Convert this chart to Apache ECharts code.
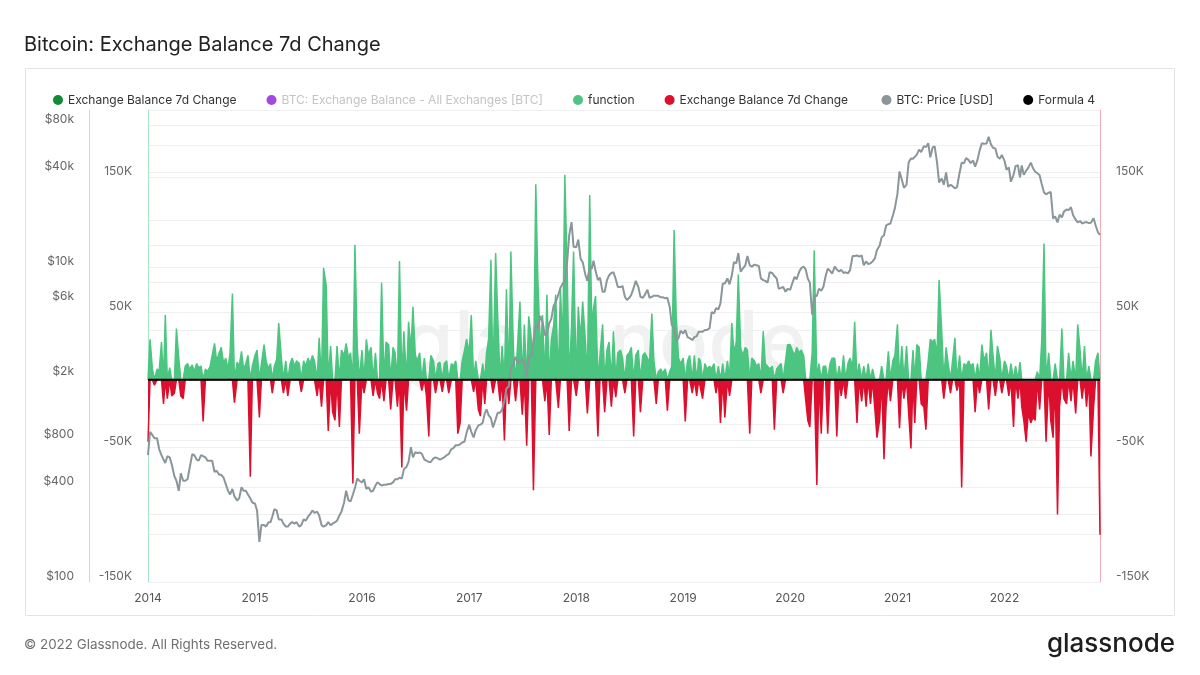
<!DOCTYPE html>
<html><head><meta charset="utf-8">
<script src="https://cdn.jsdelivr.net/npm/echarts@6/dist/echarts.min.js"></script>
<style>html,body{margin:0;padding:0;background:#fff}#c{width:1200px;height:675px}</style>
</head><body><div id="c"></div>
<script>
// ---- data (4 samples per month: day 1, 8, 16, 23) ----
const years = [2014, 2015, 2016, 2017, 2018, 2019, 2020, 2021, 2022];
const sampleDays = [1, 8, 16, 23];
// Exchange balance 7d change, thousands of BTC
const balance2014 = [-46,30,8,-4, 8,6,28,-18, 48,-14,9,-12, -10,38,16,-12, -14,10,12,8, 11,6,12,9, 10,-31,8,6, 10,18,27,14, 20,24,12,16, 8,20,64,-17, 13,10,21,8, 12,18,-72,10];
const balance2015 = [18,22,-28,12, 26,14,8,12, -10,10,15,42, 16,-10,14,-12, 12,16,10,14, 12,-9,14,10, 16,12,18,14, -12,31,-20,83, 70,-38,25,-24, -30,25,-35,22, 18,27,16,20, -77,100,24,-40];
const balance2016 = [22,-10,30,18, 24,-12,20,-10, -14,72,-16,28, 26,-22,24,20, -20,88,-65,36, -23,43,22,54, 18,14,20,-8, 16,-12,-42,18, 14,-10,12,13, -9,12,14,-10, 12,10,14,-40, -32,14,22,30];
const balance2017 = [20,48,-9,14, -22,-27,12,-18, 20,30,89,-10, 94,48,-16,25, -45,67,-18,95, 20,-16,30,58, -26,41,-49,47, 30,-82,145,75, 20,48,-16,63, -41,30,40,63, -21,68,25,152, 83,-38,40,95];
const balance2018 = [-12,54,30,58, 30,-25,137,40, 53,62,-42,18, 41,-24,22,28, -20,36,-13,20, 22,16,-10,18, 20,24,-42,18, 22,-24,18,20, 16,12,49,14, -18,6,8,5, 8,-23,6,10, 111,48,16,12];
const balance2019 = [16,-31,14,18, -10,18,-12,16, 14,-14,12,8, 10,8,12,-10, 10,-32,12,-28, 14,-12,42,20, 28,78,24,18, 24,22,-40,16, 14,10,12,-10, 36,12,10,8, 10,-37,8,10, 12,-10,14,26];
const balance2020 = [26,22,18,24, 20,22,18,-15, -30,-35,20,96, -78,12,-40,10, 10,-40,12,16, 16,-42,10,-12, 18,-14,12,16, 10,43,-32,12, -16,10,-20,12, -18,8,-22,-43, -30,10,-59,-20, 21,-16,14,18];
const balance2021 = [41,-36,25,-14, 25,-24,-51,22, -32,26,24,-18, -20,-37,14,30, 28,30,18,74, 36,-14,24,12, -10,14,31,-8, 18,-80,12,10, 14,10,12,-24, 12,-10,26,14, 20,-22,37,18, -12,25,16,-10];
const balance2022 = [14,10,-12,12, -35,10,-14,13, -20,-30,-46,-25, -32,-28,-30,6, -22,28,101,-46, 20,-30,-43,12, -100,-20,38,-14, -18,20,-16,14, -25,41,22,-14, 25,-20,10,-57, -21,14,20,-115];
// BTC price, USD
const price2014 = [640,900,860,820, 820,700,640,600, 570,630,620,560, 470,440,380,490, 440,440,450,530, 650,640,600,590, 640,630,620,590, 590,590,500,510, 480,480,460,420, 380,360,390,350, 330,340,400,380, 380,360,340,320];
const price2015 = [315,285,180,230, 230,225,240,240, 260,290,285,250, 250,235,225,225, 235,240,235,240, 225,230,250,245, 260,270,285,275, 280,265,230,225, 230,240,230,235, 240,245,265,280, 320,380,330,325, 360,395,455,440];
const price2016 = [430,450,390,400, 375,380,410,430, 420,410,415,415, 420,420,430,450, 450,460,455,520, 540,580,720,620, 670,660,665,655, 600,590,580,580, 610,620,610,600, 610,620,640,650, 700,710,740,740, 750,770,780,890];
const price2017 = [1000,900,830,920, 990,1000,1030,1180, 1250,1150,1100,960, 1080,1190,1190,1250, 1420,1700,1750,2300, 2450,2700,2450,2600, 2500,2550,2000,2750, 2700,3400,4300,4100, 4900,4500,3700,3800, 4400,4700,5700,6000, 6700,7400,7900,8100, 10800,16000,19400,13500];
const price2018 = [13400,15000,11300,10800, 9000,8200,10100,9800, 11000,9500,8300,8600, 7000,7000,8300,8900, 9200,9300,8400,7500, 7500,7600,6500,6200, 6400,6700,7400,8200, 7500,6500,6400,6700, 7200,6400,6500,6600, 6600,6600,6450,6450, 6350,6400,5600,4300, 4100,3400,3550,3950];
const price2019 = [3800,4000,3600,3550, 3450,3600,3650,3900, 3800,3900,4000,4000, 4100,5200,5100,5500, 5400,5900,7900,7900, 8500,7800,8900,10800, 10600,12300,9400,9800, 10300,11800,10300,10100, 10400,10300,10200,8500, 8300,8200,8000,9300, 9200,8800,8500,7300, 7400,7500,7000,7300];
const price2020 = [7200,7900,8700,8400, 9400,9900,10100,9700, 8500,8000,5000,6500, 6600,7300,7100,7500, 8800,9800,9500,9100, 10100,9700,9400,9650, 9200,9300,9150,9600, 11800,11800,11900,11700, 11900,10300,10900,10500, 10600,10900,11400,12900, 13700,15500,16000,18400, 18800,19000,21300,23700];
const price2021 = [29400,40700,36000,32000, 33500,46400,49200,49000, 49600,52000,56000,54000, 59000,58000,61500,50000, 57800,58800,46400,34700, 36700,33500,40100,32500, 33500,32800,31800,32300, 39900,46300,45900,49500, 48000,46000,47800,43600, 48200,55000,61500,61000, 61300,67600,60300,57500, 57000,50600,48900,51800];
const price2022 = [47700,41700,43100,35000, 38700,44000,44500,37300, 44400,38700,41100,42900, 46300,42800,40500,39700, 38500,34000,29900,29100, 29800,30100,20400,21100, 19300,21600,20800,22600, 23300,23100,24100,21500, 20100,19300,19700,19000, 19300,19400,19100,19200, 20500,18500,16700,16100];
const zeroLine = [0, 0];
const balanceLabelValues = [-150, -50, 50, 150];
const priceLabelValues = [100, 400, 800, 2000, 6000, 10000, 40000, 80000];
const priceGridValues = [100, 200, 400, 800, 1000, 2000, 4000, 6000, 8000, 10000, 20000, 40000, 60000, 80000];

// ---- build ----
const balanceByYear = [balance2014, balance2015, balance2016, balance2017, balance2018, balance2019, balance2020, balance2021, balance2022];
const priceByYear = [price2014, price2015, price2016, price2017, price2018, price2019, price2020, price2021, price2022];
const dates = [], balance = [], price = [];
years.forEach((y, k) => {
  balanceByYear[k].forEach((v, i) => {
    dates.push(Date.UTC(y, Math.floor(i / 4), sampleDays[i % 4]));
    balance.push(v);
    price.push(priceByYear[k][i]);
  });
});
const inflow = dates.map((t, i) => [t, Math.max(balance[i], 0)]);
const outflow = dates.map((t, i) => [t, Math.min(balance[i], 0)]);
const priceData = dates.map((t, i) => [t, price[i]]);
const xMin = Date.UTC(2014, 0, 1), xMax = Date.UTC(2022, 10, 23);
const yearTicks = years.map(y => Date.UTC(y, 0, 1));

const FONT = 'Inter, "Noto Sans", sans-serif';
const chart = echarts.init(document.getElementById('c'), null, { renderer: 'canvas' });
const lbl = { color: '#666', fontSize: 12, fontFamily: FONT };
chart.setOption({
  animation: false,
  backgroundColor: '#fff',
  title: { text: 'Bitcoin: Exchange Balance 7d Change', left: 19, top: 30,
    textStyle: { fontSize: 20, fontWeight: 'normal', color: '#222', fontFamily: FONT } },
  legend: {
    left: 48, top: 89, itemWidth: 10, itemHeight: 10, itemGap: 30, icon: 'circle', selectedMode: false,
    textStyle: { fontSize: 12, color: '#333', fontFamily: FONT },
    data: [
      { name: 'Exchange Balance 7d Change' },
      { name: 'BTC: Exchange Balance - All Exchanges [BTC]', textStyle: { color: '#c4c4c4' } },
      { name: 'function' },
      { name: 'Exchange Balance 7d Change ' },
      { name: 'BTC: Price [USD]' },
      { name: 'Formula 4' }
    ]
  },
  grid: { left: 148, right: 100, top: 110, bottom: 93 },
  xAxis: {
    type: 'value', min: xMin, max: xMax,
    axisLine: { show: true, lineStyle: { color: '#dcdcdc' } },
    axisTick: { show: false },
    splitLine: { show: false },
    axisLabel: { customValues: yearTicks, margin: 10, color: '#555', fontSize: 12, fontFamily: FONT,
      formatter: v => String(new Date(v).getUTCFullYear()) }
  },
  yAxis: [
    { type: 'log', logBase: 10, min: 100, max: 100000, position: 'left', offset: 59,
      axisLine: { show: true, lineStyle: { color: '#d4d4d4' } },
      axisTick: { show: false, customValues: priceGridValues },
      splitLine: { show: true, lineStyle: { color: '#efefef' } },
      axisLabel: Object.assign({ customValues: priceLabelValues, verticalAlign: 'bottom', margin: 15,
        formatter: v => '$' + (v >= 1000 ? (v / 1000) + 'k' : v) }, lbl) },
    { type: 'value', min: -150, max: 200, interval: 50, position: 'left', offset: 0,
      axisLine: { show: true, lineStyle: { color: '#a8e6c9' } },
      axisTick: { show: false },
      splitLine: { show: true, lineStyle: { color: '#efefef' } },
      axisLabel: Object.assign({ customValues: balanceLabelValues, verticalAlign: 'bottom', margin: 16,
        formatter: v => v + 'K' }, lbl) },
    { type: 'value', min: -150, max: 200, interval: 50, position: 'right', offset: 0,
      axisLine: { show: true, lineStyle: { color: '#f2aab4' } },
      axisTick: { show: false },
      splitLine: { show: false },
      axisLabel: Object.assign({ customValues: balanceLabelValues, verticalAlign: 'bottom', margin: 16,
        formatter: v => v + 'K' }, lbl) }
  ],
  series: [
    { name: 'Exchange Balance 7d Change', type: 'line', color: '#138a36', data: [], yAxisIndex: 1 },
    { name: 'BTC: Exchange Balance - All Exchanges [BTC]', type: 'line', color: '#a547e0', data: [], yAxisIndex: 1 },
    { name: 'function', type: 'line', color: '#4cc581', yAxisIndex: 1, data: inflow, symbol: 'none',
      lineStyle: { width: 1.5, color: '#4cc581' }, areaStyle: { color: '#4cc581', opacity: 1 }, z: 2 },
    { name: 'Exchange Balance 7d Change ', type: 'line', color: '#dc0f2e', yAxisIndex: 1, data: outflow, symbol: 'none',
      lineStyle: { width: 1.5, color: '#dc0f2e' }, areaStyle: { color: '#dc0f2e', opacity: 1 }, z: 2 },
    { name: 'BTC: Price [USD]', type: 'line', color: '#8a969a', yAxisIndex: 0, data: priceData, symbol: 'none',
      lineStyle: { width: 2, color: '#8a969a' }, z: 3 },
    { name: 'Formula 4', type: 'line', color: '#000', yAxisIndex: 1, symbol: 'none',
      data: [[xMin, zeroLine[0]], [xMax, zeroLine[1]]], lineStyle: { width: 2, color: '#000' }, z: 4 }
  ],
  graphic: [
    { type: 'rect', z: -10, silent: true, shape: { x: 25.5, y: 68.5, width: 1149, height: 547 },
      style: { fill: 'none', stroke: '#e4e4e4', lineWidth: 1 } },
    { type: 'text', z: 0, silent: true, x: 605, y: 345,
      style: { text: 'glassnode', fill: 'rgba(0,0,0,0.055)', font: '500 82px ' + FONT, textAlign: 'center', textVerticalAlign: 'middle' } },
    { type: 'text', silent: true, x: 24, y: 645,
      style: { text: '\u00a9 2022 Glassnode. All Rights Reserved.', fill: '#6f6f6f', font: '13.4px ' + FONT, textVerticalAlign: 'middle' } },
    { type: 'text', silent: true, x: 1175, y: 644,
      style: { text: 'glassnode', fill: '#1e1e1e', font: '500 26px ' + FONT, textAlign: 'right', textVerticalAlign: 'middle' } }
  ]
});
</script></body></html>
